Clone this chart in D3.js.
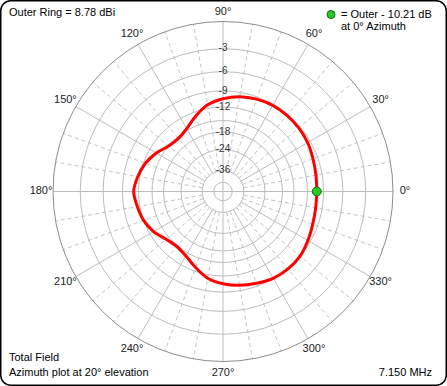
<!DOCTYPE html>
<html>
<head>
<meta charset="utf-8">
<script src="https://cdn.jsdelivr.net/npm/d3@7"></script>
<style>
  html, body { margin: 0; padding: 0; background: #fff; }
  svg { display: block; font-family: "Liberation Sans", Arial, sans-serif; }
</style>
</head>
<body>
<svg id="plotArea" width="447" height="386"></svg>
<script>

// azimuth (deg)
const azimuths = [0, 10, 20, 30, 40, 50, 60, 70, 80, 90, 100, 110, 120, 130, 140, 150, 160, 170,
  180, 190, 200, 210, 220, 230, 240, 250, 260, 270, 280, 290, 300, 310, 320, 330, 340, 350];

// gain relative to outer ring (dB)
const gains = [-10.21, -10.1, -9.85, -9.5, -9.3, -9.2, -9.2, -9.4, -9.75, -10.4, -11.3, -12.9,
  -14.6, -15.4, -15.0, -13.6, -12.4, -11.6, -11.05, -11.5, -12.0, -12.9, -14.2, -14.8,
  -14.2, -12.8, -11.3, -10.5, -9.95, -9.5, -9.05, -8.92, -9.0, -9.45, -9.9, -10.15];

// grid rings (dB) and the ones that get a label
const ringLevels = [0, -3, -6, -9, -12, -15, -18, -24, -36, -50];
const ringLabels = [-3, -6, -9, -12, -18, -24, -36];

// angle labels
const angleTicks = [0, 30, 60, 90, 120, 150, 180, 210, 240, 270, 300, 330];

// texts
const outerRing = 8.78;
const cursorAz = 0;
const freqText = "7.150 MHz";
const fieldText = "Total Field";
const plotText = "Azimuth plot at 20° elevation";


/* ARRL log polar plot */
class PolarPlot {

  constructor(svgId) {
    this.svg = d3.select(`#${svgId}`);
    this.cx = 223;
    this.cy = 191.5;
    this.R = 170;

    // radius -> dB (ARRL: 0.89 per 2 dB), inverted for dB -> radius
    let dbOfR = d3.scaleLog()
      .domain([this.R * 0.89, this.R])
      .range([-2, 0]);
    this.r = db => dbOfR.invert(db);

    // azimuth (ccw from east) -> radial line angle (cw from north)
    this.a = d3.scaleLinear()
      .domain([0, 360])
      .range([Math.PI / 2, Math.PI / 2 - 2 * Math.PI]);
  }

  xy(az, rad) {
    let t = az * Math.PI / 180;
    return [rad * Math.cos(t), -rad * Math.sin(t)];
  }

  drawFrame() {
    this.svg.append("rect")
      .attr("x", 0.75).attr("y", 0.75)
      .attr("width", 445.5).attr("height", 384.5)
      .attr("rx", 10).attr("ry", 10)
      .attr("fill", "#fff")
      .attr("stroke", "#000")
      .attr("stroke-width", 1.5);
  }

  drawGrid() {
    let g = this.svg.append("g")
      .attr("transform", `translate(${this.cx},${this.cy})`);
    this.g = g;

    let rIn = this.r(-36);

    // 10 deg dashed spokes
    let minor = d3.range(0, 360, 10).filter(d => d % 30 !== 0);
    g.selectAll("line.minor")
      .data(minor)
      .enter()
      .append("line")
      .attr("class", "minor")
      .attr("x1", d => this.xy(d, rIn)[0])
      .attr("y1", d => this.xy(d, rIn)[1])
      .attr("x2", d => this.xy(d, this.R)[0])
      .attr("y2", d => this.xy(d, this.R)[1])
      .attr("stroke", "#c4c4c4")
      .attr("stroke-dasharray", "4,3");

    // 30 deg solid spokes (0/90/180/270 go to the centre)
    g.selectAll("line.major")
      .data(angleTicks)
      .enter()
      .append("line")
      .attr("class", "major")
      .attr("x1", d => this.xy(d, d % 90 === 0 ? 0 : rIn)[0])
      .attr("y1", d => this.xy(d, d % 90 === 0 ? 0 : rIn)[1])
      .attr("x2", d => this.xy(d, this.R)[0])
      .attr("y2", d => this.xy(d, this.R)[1])
      .attr("stroke", "#bdbdbd");

    // rings
    g.selectAll("circle.ring")
      .data(ringLevels)
      .enter()
      .append("circle")
      .attr("class", "ring")
      .attr("r", d => this.r(d))
      .attr("fill", "none")
      .attr("stroke", d => d === 0 ? "#8c8c8c" : "#bdbdbd")
      .attr("stroke-width", 1);

    // dB labels on the 90 deg line
    g.selectAll("text.db")
      .data(ringLabels)
      .enter()
      .append("text")
      .attr("class", "db")
      .text(d => d)
      .attr("x", 0)
      .attr("y", d => -this.r(d))
      .attr("text-anchor", "middle")
      .attr("dominant-baseline", "middle")
      .attr("font-size", "10px")
      .attr("fill", "#333");

    // angle labels
    g.selectAll("text.ang")
      .data(angleTicks)
      .enter()
      .append("text")
      .attr("class", "ang")
      .text(d => d + "°")
      .attr("x", d => this.xy(d, 182)[0])
      .attr("y", d => this.xy(d, d === 90 ? 179 : 182)[1])
      .attr("text-anchor", "middle")
      .attr("dominant-baseline", "middle")
      .attr("font-size", "11px")
      .attr("fill", "#222");
  }

  drawPattern() {
    let line = d3.lineRadial()
      .angle((d, i) => this.a(azimuths[i]))
      .radius(d => this.r(d))
      .curve(d3.curveCatmullRomClosed);

    this.g.append("path")
      .datum(gains)
      .attr("d", line)
      .attr("fill", "none")
      .attr("stroke", "#ff0000")
      .attr("stroke-width", 3);

    // cursor marker
    let i = azimuths.indexOf(cursorAz);
    let p = this.xy(cursorAz, this.r(gains[i]));
    this.g.append("circle")
      .attr("cx", p[0]).attr("cy", p[1])
      .attr("r", 4.5)
      .attr("fill", "#22cc22")
      .attr("stroke", "#1d5e1d")
      .attr("stroke-width", 1);
  }

  drawTexts() {
    let i = azimuths.indexOf(cursorAz);
    let t = this.svg.append("g")
      .attr("font-size", "11px")
      .attr("fill", "#000");

    t.append("text").attr("x", 9).attr("y", 16)
      .text(`Outer Ring = ${outerRing.toFixed(2)} dBi`);

    this.svg.append("circle")
      .attr("cx", 331).attr("cy", 14.5).attr("r", 4)
      .attr("fill", "#22cc22")
      .attr("stroke", "#1d5e1d");
    t.append("text").attr("x", 341).attr("y", 18)
      .text(`= Outer - ${(-gains[i]).toFixed(2)} dB`);
    t.append("text").attr("x", 341).attr("y", 30)
      .text(`at ${cursorAz}° Azimuth`);

    t.append("text").attr("x", 9).attr("y", 361).text(fieldText);
    t.append("text").attr("x", 9).attr("y", 376).text(plotText);
    t.append("text").attr("x", 432).attr("y", 376)
      .attr("text-anchor", "end").text(freqText);
  }

}

let pp = new PolarPlot("plotArea");
pp.drawFrame();
pp.drawGrid();
pp.drawPattern();
pp.drawTexts();

</script>
</body>
</html>
